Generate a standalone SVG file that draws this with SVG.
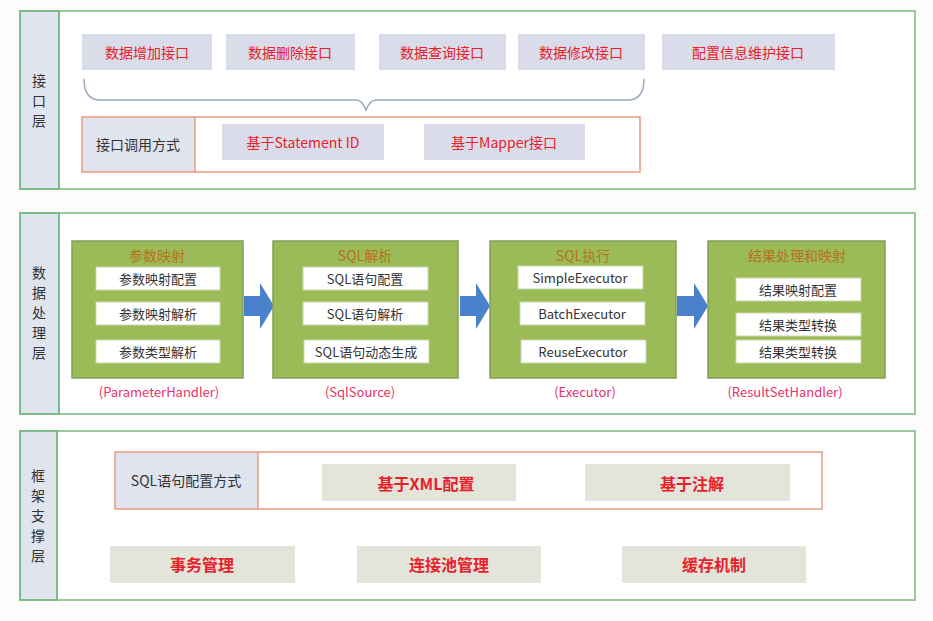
<svg xmlns="http://www.w3.org/2000/svg" width="933" height="621" viewBox="0 0 933 621">
<style>
text{font-family:"Noto Sans CJK SC","Liberation Sans",sans-serif;text-anchor:middle;dominant-baseline:central}
.layer{fill:#fff;stroke:#9cc89c;stroke-width:2}
.lab{fill:#dfe4ef;stroke:#7dbb8a;stroke-width:2}
.lt{font-size:14px;fill:#333}
.pb{fill:#dadcea}
.gb{fill:#e3e4da}
.rt{fill:#e8202a;font-size:14px}
.rtb{fill:#e8202a;font-size:16px;font-weight:bold}
.or{fill:none;stroke:#eb9a80;stroke-width:1.5}
.grn{fill:#9bbb59;stroke:#7fa05a;stroke-width:1.5}
.wb{fill:#fff;stroke:#c8d8a8;stroke-width:1}
.tt{fill:#b8721b;font-size:14px}
.bt{fill:#333;font-size:13px}
.ct{fill:#e8336a;font-size:13px}
</style>
<rect width="933" height="621" fill="#fbfcfb"/>
<g id="layer1">
<rect class="layer" x="20" y="11" width="895" height="178"/>
<rect class="lab" x="20" y="11" width="39" height="178"/>
<text class="lt" x="39" y="80">接</text><text class="lt" x="39" y="100">口</text><text class="lt" x="39" y="120">层</text>
</g>
<g id="api1"><rect class="pb" x="82" y="34" width="130" height="36"/><text class="rt" x="147" y="52">数据增加接口</text></g>
<g id="api2"><rect class="pb" x="226" y="34" width="129" height="36"/><text class="rt" x="290" y="52">数据删除接口</text></g>
<g id="api3"><rect class="pb" x="379" y="34" width="127" height="36"/><text class="rt" x="442" y="52">数据查询接口</text></g>
<g id="api4"><rect class="pb" x="518" y="34" width="127" height="36"/><text class="rt" x="581" y="52">数据修改接口</text></g>
<g id="api5"><rect class="pb" x="662" y="34" width="173" height="36"/><text class="rt" x="748" y="52">配置信息维护接口</text></g>
<path d="M84 79 Q84 100 100 100 L356 100 Q362 100 366 110 Q370 100 376 100 L628 100 Q644 100 644 79" fill="none" stroke="#9aaac0" stroke-width="1.5"/>
<g id="call">
<rect x="82" y="117" width="113" height="55" fill="#dfe4ef"/>
<rect class="or" x="82" y="117" width="558" height="55"/>
<line x1="195" y1="117" x2="195" y2="172" stroke="#eb9a80" stroke-width="1.5"/>
<text class="lt" x="138" y="144">接口调用方式</text>
<rect class="pb" x="222" y="124" width="162" height="36"/><text class="rt" x="303" y="142">基于Statement ID</text>
<rect class="pb" x="424" y="124" width="161" height="36"/><text class="rt" x="504" y="142">基于Mapper接口</text>
</g>
<g id="layer2">
<rect class="layer" x="20" y="213" width="895" height="201"/>
<rect class="lab" x="20" y="213" width="39" height="201"/>
<text class="lt" x="39" y="272">数</text><text class="lt" x="39" y="292">据</text><text class="lt" x="39" y="312">处</text><text class="lt" x="39" y="332">理</text><text class="lt" x="39" y="352">层</text>
</g>
<g id="connectors" fill="#4a80cc">
<path d="M244 296 L260 296 L260 283 L274 306 L260 329 L260 316 L244 316 Z"/>
<path d="M460 296 L476 296 L476 283 L490 306 L476 329 L476 316 L460 316 Z"/>
<path d="M677 296 L694 296 L694 283 L708 306 L694 329 L694 316 L677 316 Z"/>
</g>
<g id="param">
<rect class="grn" x="72" y="241" width="171" height="137"/>
<text class="tt" x="157" y="255">参数映射</text>
<rect class="wb" x="96" y="267" width="124" height="23"/><text class="bt" x="158" y="278">参数映射配置</text>
<rect class="wb" x="96" y="302" width="124" height="23"/><text class="bt" x="158" y="313">参数映射解析</text>
<rect class="wb" x="96" y="340" width="124" height="23"/><text class="bt" x="158" y="351">参数类型解析</text>
<text class="ct" x="159" y="391">(ParameterHandler)</text>
</g>
<g id="sql">
<rect class="grn" x="273" y="241" width="185" height="137"/>
<text class="tt" x="365" y="255">SQL解析</text>
<rect class="wb" x="303" y="267" width="125" height="23"/><text class="bt" x="365" y="278">SQL语句配置</text>
<rect class="wb" x="303" y="302" width="125" height="23"/><text class="bt" x="365" y="313">SQL语句解析</text>
<rect class="wb" x="304" y="340" width="125" height="23"/><text class="bt" x="366" y="351">SQL语句动态生成</text>
<text class="ct" x="360" y="391">(SqlSource)</text>
</g>
<g id="exec">
<rect class="grn" x="490" y="241" width="186" height="137"/>
<text class="tt" x="583" y="255">SQL执行</text>
<rect class="wb" x="518" y="266" width="125" height="23"/><text class="bt" x="580" y="277">SimpleExecutor</text>
<rect class="wb" x="520" y="302" width="125" height="23"/><text class="bt" x="582" y="313">BatchExecutor</text>
<rect class="wb" x="521" y="340" width="125" height="23"/><text class="bt" x="583" y="351">ReuseExecutor</text>
<text class="ct" x="585" y="391">(Executor)</text>
</g>
<g id="result">
<rect class="grn" x="708" y="241" width="177" height="137"/>
<text class="tt" x="797" y="255">结果处理和映射</text>
<rect class="wb" x="736" y="278" width="125" height="23"/><text class="bt" x="798" y="289">结果映射配置</text>
<rect class="wb" x="736" y="313" width="125" height="23"/><text class="bt" x="798" y="324">结果类型转换</text>
<rect class="wb" x="736" y="340" width="125" height="23"/><text class="bt" x="798" y="351">结果类型转换</text>
<text class="ct" x="785" y="391">(ResultSetHandler)</text>
</g>
<g id="layer3">
<rect class="layer" x="20" y="431" width="895" height="169"/>
<rect class="lab" x="20" y="431" width="37" height="169"/>
<text class="lt" x="38" y="475">框</text><text class="lt" x="38" y="495">架</text><text class="lt" x="38" y="515">支</text><text class="lt" x="38" y="535">撑</text><text class="lt" x="38" y="555">层</text>
</g>
<g id="sqlcfg">
<rect x="115" y="452" width="143" height="57" fill="#dfe4ef"/>
<rect class="or" x="115" y="452" width="707" height="57"/>
<line x1="258" y1="452" x2="258" y2="509" stroke="#eb9a80" stroke-width="1.5"/>
<text class="lt" x="186" y="480">SQL语句配置方式</text>
<rect class="gb" x="322" y="464" width="194" height="37"/><text class="rtb" x="426" y="483">基于XML配置</text>
<rect class="gb" x="585" y="464" width="205" height="37"/><text class="rtb" x="692" y="483">基于注解</text>
</g>
<g id="tx"><rect class="gb" x="110" y="546" width="185" height="37"/><text class="rtb" x="202" y="564">事务管理</text></g>
<g id="pool"><rect class="gb" x="357" y="546" width="184" height="37"/><text class="rtb" x="449" y="564">连接池管理</text></g>
<g id="cache"><rect class="gb" x="622" y="546" width="184" height="37"/><text class="rtb" x="714" y="564">缓存机制</text></g>
</svg>
